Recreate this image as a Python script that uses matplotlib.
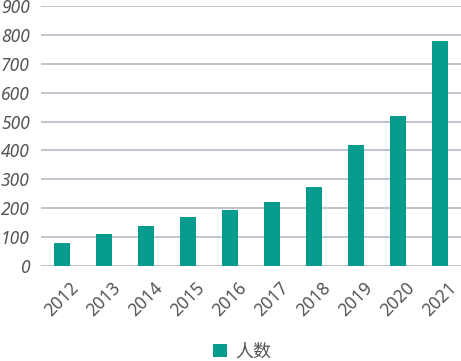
import matplotlib
matplotlib.use("Agg")
import matplotlib.pyplot as plt
from matplotlib.patches import Patch

years = ["2012", "2013", "2014", "2015", "2016", "2017", "2018", "2019", "2020", "2021"]
counts = [80, 110, 140, 170, 195, 220, 275, 420, 520, 780]
yticks = [0, 100, 200, 300, 400, 500, 600, 700, 800, 900]
series_name = "人数"

bar_color = "#069b8f"
text_color = "#555555"
grid_color = "#b9c0c8"

plt.rcParams["font.family"] = ["Noto Sans", "Noto Sans CJK SC", "DejaVu Sans"]

fig = plt.figure(figsize=(4.61, 3.61), dpi=100)
ax = fig.add_axes([41 / 461, 95 / 361, 420 / 461, 260 / 361])

x = range(len(years))
ax.bar(x, counts, width=0.36, color=bar_color, zorder=3)

ax.set_xlim(-0.5, len(years) - 0.5)
ax.set_ylim(0, 900)
ax.set_yticks(yticks)
ax.set_yticklabels([str(v) for v in yticks], fontstyle="italic", fontsize=12.5, color=text_color)
ax.set_xticks(list(x))
ax.set_xticklabels(years, rotation=45, ha="center", va="top",
                   fontsize=12.5, color=text_color)
ax.tick_params(axis="both", length=0)
ax.tick_params(axis="y", pad=8)
ax.tick_params(axis="x", pad=9)
ax.grid(axis="y", color=grid_color, linewidth=1.3, zorder=0)
for side in ax.spines.values():
    side.set_visible(False)

handle = Patch(facecolor=bar_color, edgecolor="none")
fig.legend([handle], [series_name], loc="lower center", bbox_to_anchor=(0.525, -0.045),
           frameon=False, handlelength=0.75, handleheight=0.75, handletextpad=0.45,
           prop={"family": ["Noto Sans CJK SC", "DejaVu Sans"], "size": 13},
           labelcolor=text_color)

fig.savefig("out.png", dpi=100)
